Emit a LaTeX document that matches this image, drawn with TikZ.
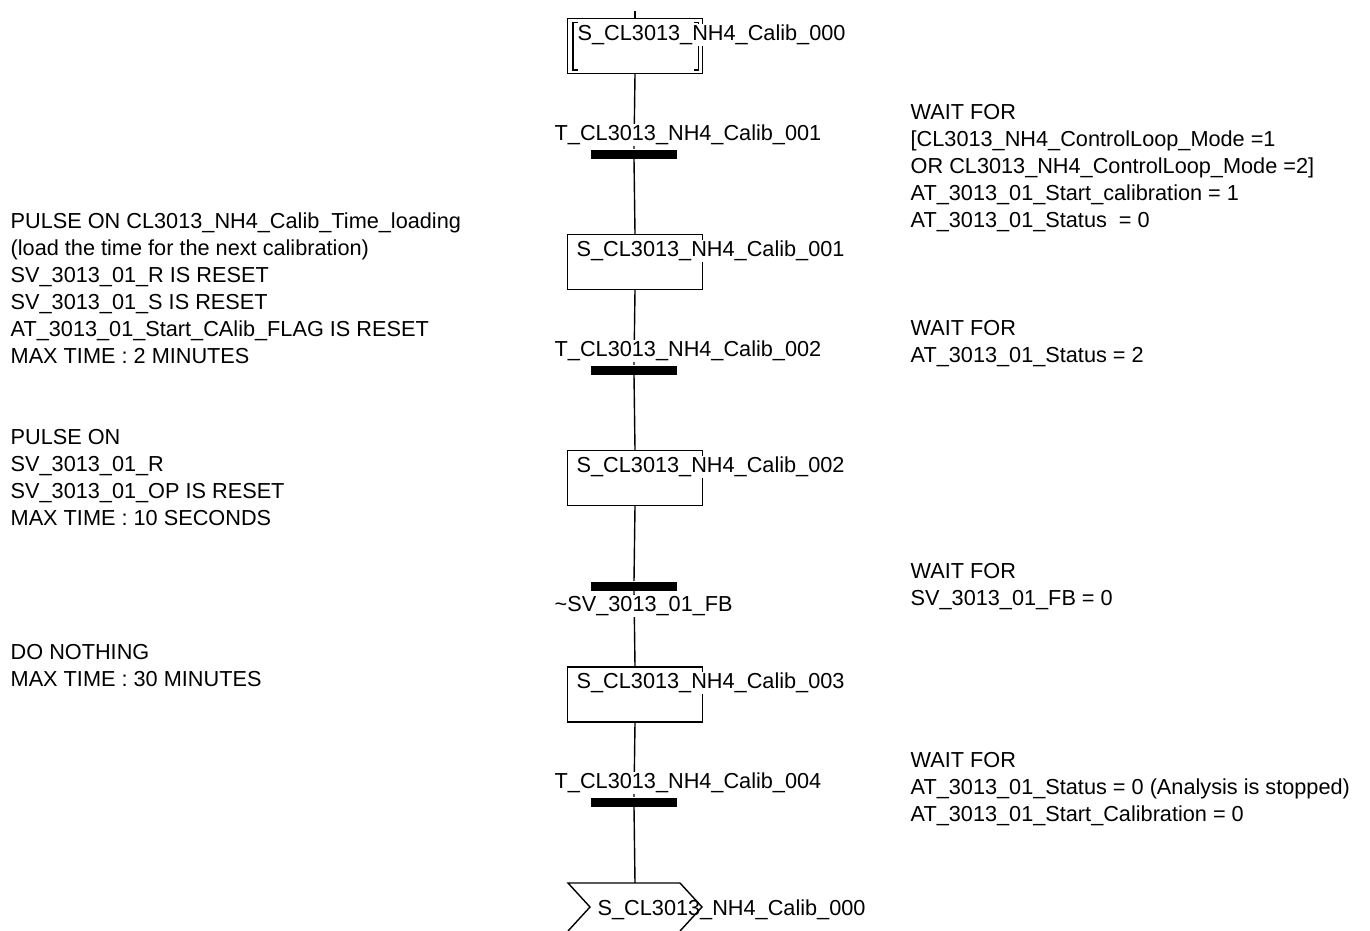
\documentclass[tikz,border=0pt]{standalone}
\usepackage{fontspec}
\setmainfont{Liberation Sans}
\usepackage{tikz}
\usetikzlibrary{positioning,calc}
\newcommand{\sgfont}{\fontsize{21.7}{27}\selectfont}

\begin{document}
\begin{tikzpicture}[x=1pt, y=-1pt, line width=1.4pt,
    stepbox/.style={draw, minimum width=135pt, minimum height=55pt, inner sep=0pt},
    trbar/.style={fill=black, minimum width=86pt, minimum height=9pt, inner sep=0pt},
    lbl/.style={font=\sgfont, inner sep=1pt, fill=white, anchor=west},
    note/.style={font=\sgfont, align=left, anchor=north west, inner sep=0pt}]
    \useasboundingbox (0,0) rectangle (1370,931);

    % steps and transitions
    \coordinate (top) at (635,11);
    \node[stepbox] (s000) at (635,46) {};
    \draw ([shift={(6,5)}]s000.north west) rectangle ([shift={(-5,-4)}]s000.south east);
    \fill[white] ([shift={(11,3)}]s000.north west) rectangle ([shift={(-9,-2)}]s000.south east);
    \node[trbar] (t001) at (634,154) {};
    \node[stepbox] (s001) at (635,262) {};
    \node[trbar] (t002) at (634,370) {};
    \node[stepbox] (s002) at (635,478) {};
    \node[trbar] (t003) at (634,586) {};
    \node[stepbox] (s003) at (635,694.5) {};
    \node[trbar] (t004) at (634,802) {};
    \coordinate (jmp) at (635,883);

    \draw (top) -- (s000.north);
    \draw (s000.south) -- (t001.north);
    \draw (t001.south) -- (s001.north);
    \draw (s001.south) -- (t002.north);
    \draw (t002.south) -- (s002.north);
    \draw (s002.south) -- (t003.north);
    \draw (t003.south) -- (s003.north);
    \draw (s003.south) -- (t004.north);
    \draw (t004.south) -- (jmp);

    % labels
    \node[lbl] (s000t) at (576,35) {S\_CL3013\_NH4\_Calib\_000};
    \node[lbl] (t001t) at (553,135) {T\_CL3013\_NH4\_Calib\_001};
    \node[lbl] (s001t) at (575,251) {S\_CL3013\_NH4\_Calib\_001};
    \node[lbl] (t002t) at (553,351) {T\_CL3013\_NH4\_Calib\_002};
    \node[lbl] (s002t) at (575,467) {S\_CL3013\_NH4\_Calib\_002};
    \node[lbl] (t003t) at (553,606) {\textasciitilde SV\_3013\_01\_FB};
    \node[lbl] (s003t) at (575,683) {S\_CL3013\_NH4\_Calib\_003};
    \node[lbl] (t004t) at (553,783) {T\_CL3013\_NH4\_Calib\_004};

    % jump back
    \node[lbl, fill=none] (jmpt) at (596,910) {S\_CL3013\_NH4\_Calib\_000};
    \draw (568,931) -- (590,907) -- (568,883) -- (680,883) -- (702,907) -- (680,931);

    % actions
    \node[note] (a001) at (10,212) {PULSE ON CL3013\_NH4\_Calib\_Time\_loading\\
        (load the time for the next calibration)\\
        SV\_3013\_01\_R IS RESET\\
        SV\_3013\_01\_S IS RESET\\
        AT\_3013\_01\_Start\_CAlib\_FLAG IS RESET\\
        MAX TIME : 2 MINUTES};
    \node[note] (a002) at (10,429) {PULSE ON\\
        SV\_3013\_01\_R\\
        SV\_3013\_01\_OP IS RESET\\
        MAX TIME : 10 SECONDS};
    \node[note] (a003) at (10,644) {DO NOTHING\\
        MAX TIME : 30 MINUTES};

    % conditions
    \node[note] (c001) at (910,104) {WAIT FOR\\
        {[}CL3013\_NH4\_ControlLoop\_Mode =1\\
        OR CL3013\_NH4\_ControlLoop\_Mode =2]\\
        AT\_3013\_01\_Start\_calibration = 1\\
        AT\_3013\_01\_Status~ = 0};
    \node[note] (c002) at (910,320) {WAIT FOR\\
        AT\_3013\_01\_Status = 2};
    \node[note] (c003) at (910,563) {WAIT FOR\\
        SV\_3013\_01\_FB = 0};
    \node[note] (c004) at (910,752) {WAIT FOR\\
        AT\_3013\_01\_Status = 0 (Analysis is stopped)\\
        AT\_3013\_01\_Start\_Calibration = 0};
\end{tikzpicture}
\end{document}
